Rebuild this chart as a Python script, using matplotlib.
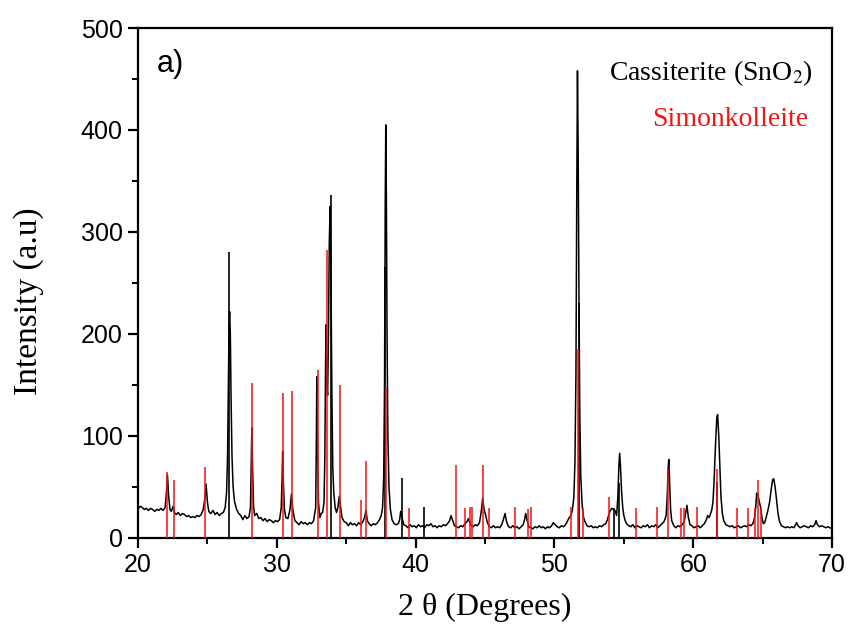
import matplotlib
matplotlib.use('Agg')
import matplotlib.pyplot as plt

# Pola XRD terukur (2 theta, intensitas)
two_theta = [
    20.0, 20.15, 20.3, 20.45, 20.6, 20.75, 20.9, 21.05, 21.2, 21.35, 21.5, 21.65, 21.8, 21.95,
    22.05, 22.12, 22.2, 22.3, 22.4, 22.52, 22.62, 22.75, 22.9, 23.05, 23.2, 23.35, 23.5, 23.65,
    23.8, 23.95, 24.1, 24.25, 24.4, 24.55, 24.7, 24.83, 24.9, 25.0, 25.1, 25.25, 25.4, 25.55,
    25.7, 25.85, 26.0, 26.15, 26.28, 26.38, 26.45, 26.51, 26.56, 26.6, 26.65, 26.7, 26.77, 26.85,
    26.95, 27.1, 27.25, 27.4, 27.55, 27.7, 27.85, 28.0, 28.1, 28.15, 28.2, 28.25, 28.32, 28.4,
    28.55, 28.7, 28.85, 29.0, 29.15, 29.3, 29.45, 29.6, 29.75, 29.9, 30.05, 30.2, 30.32, 30.38,
    30.42, 30.47, 30.55, 30.65, 30.8, 30.95, 31.05, 31.15, 31.3, 31.45, 31.6, 31.75, 31.9, 32.05,
    32.2, 32.35, 32.5, 32.65, 32.8, 32.85, 32.88, 32.93, 33.0, 33.1, 33.2, 33.3, 33.4, 33.46,
    33.51, 33.55, 33.6, 33.66, 33.72, 33.78, 33.84, 33.9, 33.96, 34.03, 34.1, 34.2, 34.3, 34.4,
    34.5, 34.6, 34.7, 34.85, 35.0, 35.15, 35.3, 35.45, 35.6, 35.75, 35.9, 36.05, 36.2, 36.32,
    36.42, 36.52, 36.65, 36.8, 36.95, 37.1, 37.25, 37.4, 37.52, 37.62, 37.7, 37.76, 37.81, 37.85,
    37.89, 37.94, 38.0, 38.08, 38.18, 38.3, 38.45, 38.6, 38.75, 38.85, 38.92, 39.02, 39.15, 39.3,
    39.45, 39.6, 39.75, 39.9, 40.05, 40.2, 40.35, 40.5, 40.65, 40.8, 40.95, 41.1, 41.25, 41.4,
    41.55, 41.7, 41.85, 42.0, 42.15, 42.3, 42.45, 42.55, 42.65, 42.8, 42.95, 43.1, 43.25, 43.4,
    43.55, 43.7, 43.8, 43.9, 44.0, 44.15, 44.3, 44.45, 44.6, 44.72, 44.83, 44.93, 45.05, 45.15,
    45.3, 45.45, 45.6, 45.75, 45.9, 46.05, 46.2, 46.32, 46.44, 46.55, 46.7, 46.85, 47.0, 47.15,
    47.3, 47.45, 47.6, 47.75, 47.85, 47.93, 48.02, 48.15, 48.3, 48.45, 48.6, 48.75, 48.9, 49.05,
    49.2, 49.35, 49.5, 49.65, 49.8, 49.92, 50.05, 50.2, 50.35, 50.5, 50.65, 50.8, 50.95, 51.07,
    51.2, 51.3, 51.4, 51.48, 51.55, 51.61, 51.66, 51.71, 51.77, 51.83, 51.9, 52.0, 52.1, 52.2,
    52.35, 52.5, 52.65, 52.8, 52.95, 53.1, 53.25, 53.4, 53.55, 53.7, 53.82, 53.9, 54.0, 54.13,
    54.25, 54.36, 54.48, 54.57, 54.64, 54.7, 54.76, 54.84, 54.92, 55.0, 55.1, 55.2, 55.35, 55.5,
    55.65, 55.8, 55.95, 56.1, 56.25, 56.4, 56.55, 56.7, 56.85, 57.0, 57.15, 57.3, 57.45, 57.6,
    57.75, 57.9, 58.05, 58.13, 58.19, 58.24, 58.3, 58.37, 58.45, 58.6, 58.75, 58.9, 59.05, 59.2,
    59.35, 59.45, 59.55, 59.65, 59.77, 59.9, 60.05, 60.2, 60.35, 60.5, 60.65, 60.8, 60.95, 61.04,
    61.15, 61.25, 61.33, 61.42, 61.5, 61.6, 61.7, 61.76, 61.84, 61.92, 62.0, 62.1, 62.2, 62.35,
    62.5, 62.65, 62.8, 62.95, 63.1, 63.25, 63.4, 63.55, 63.7, 63.85, 64.0, 64.15, 64.3, 64.42,
    64.5, 64.57, 64.65, 64.75, 64.86, 64.95, 65.05, 65.15, 65.25, 65.38, 65.5, 65.62, 65.72, 65.8,
    65.9, 66.0, 66.1, 66.2, 66.35, 66.5, 66.65, 66.8, 66.95, 67.1, 67.25, 67.38, 67.45, 67.55,
    67.7, 67.85, 68.0, 68.15, 68.3, 68.46, 68.6, 68.75, 68.85, 68.95, 69.1, 69.25, 69.4, 69.55,
    69.7, 69.85, 70.0,
]
intensity = [
    29, 31, 30, 28, 29, 27, 29, 28, 26, 28, 27, 29, 27, 30,
    45, 62, 42, 28, 26, 31, 25, 23, 25, 22, 24, 23, 21, 22,
    20, 21, 20, 22, 21, 23, 28, 40, 53, 35, 26, 24, 27, 23,
    25, 22, 24, 25, 30, 45, 80, 150, 210, 222, 200, 140, 80, 50,
    36, 28, 24, 22, 18, 22, 19, 21, 30, 70, 108, 70, 32, 22,
    24, 19, 20, 17, 19, 16, 18, 17, 15, 17, 16, 18, 30, 60,
    85, 55, 28, 20, 19, 28, 43, 28, 17, 15, 13, 16, 14, 15,
    13, 15, 14, 17, 30, 100, 158, 90, 35, 20, 24, 25, 35, 80,
    170, 209, 150, 140, 200, 290, 325, 260, 150, 70, 45, 30, 25, 30,
    41, 30, 20, 16, 15, 12, 15, 13, 14, 12, 15, 13, 16, 20,
    27, 17, 14, 12, 14, 13, 15, 18, 22, 30, 60, 150, 330, 405,
    340, 200, 100, 50, 28, 18, 14, 13, 14, 18, 26, 20, 13, 12,
    10, 13, 11, 12, 10, 13, 11, 12, 10, 13, 12, 14, 11, 12,
    10, 12, 11, 13, 12, 14, 17, 22, 18, 12, 11, 10, 12, 11,
    14, 16, 19, 15, 12, 11, 13, 12, 15, 25, 39, 28, 22, 16,
    11, 10, 12, 10, 11, 10, 13, 18, 24, 16, 11, 10, 12, 10,
    11, 9, 11, 13, 18, 24, 18, 11, 10, 9, 11, 10, 12, 10,
    11, 9, 11, 10, 12, 15, 13, 11, 10, 12, 11, 13, 17, 20,
    22, 28, 40, 75, 160, 340, 458, 380, 230, 120, 60, 32, 20, 16,
    12, 11, 12, 10, 11, 10, 12, 11, 13, 14, 18, 22, 26, 29,
    28, 27, 22, 40, 70, 83, 70, 45, 30, 22, 17, 14, 12, 11,
    13, 10, 12, 11, 10, 12, 11, 13, 10, 12, 11, 13, 10, 12,
    14, 16, 22, 42, 68, 77, 55, 28, 17, 12, 10, 12, 11, 13,
    16, 24, 32, 20, 13, 12, 10, 11, 12, 10, 12, 14, 18, 22,
    20, 24, 27, 35, 55, 90, 118, 121, 100, 70, 40, 24, 17, 13,
    12, 11, 12, 10, 11, 12, 10, 11, 12, 11, 13, 12, 14, 20,
    30, 44, 43, 36, 30, 20, 14, 15, 20, 27, 35, 48, 57, 58,
    50, 38, 25, 17, 12, 11, 10, 11, 10, 11, 10, 13, 15, 12,
    10, 11, 12, 11, 10, 12, 11, 13, 17, 13, 11, 12, 11, 10,
    11, 10, 9,
]

# Garis referensi Cassiterite (SnO2) - hitam
cas_pos = [26.58, 33.88, 37.82, 39.04, 40.6, 51.77, 54.3, 54.65, 61.74]
cas_int = [280, 336, 266, 59, 30, 230, 29, 54, 55]

# Garis referensi Simonkolleite - merah
sim_pos = [22.11, 22.57, 24.83, 28.24, 30.42, 31.12, 32.99, 33.64, 34.55, 36.04,
           36.43, 37.87, 39.55, 42.91, 43.56, 43.92, 44.04, 44.83, 45.31, 47.16,
           48.07, 48.29, 51.22, 51.68, 52.05, 53.96, 55.88, 57.41, 58.16, 59.12,
           59.36, 60.25, 61.69, 63.18, 63.97, 64.45, 64.69, 64.86]
sim_int = [65, 57, 70, 152, 142, 144, 165, 282, 150, 37,
           75, 148, 29, 72, 29, 30, 30, 72, 29, 30,
           28, 30, 30, 185, 29, 40, 29, 30, 68, 29,
           29, 30, 68, 29, 29, 29, 57, 29]

plt.rcParams['mathtext.fontset'] = 'stix'

fig = plt.figure(figsize=(8.51, 6.35), dpi=100)
ax = fig.add_axes([0.1622, 0.1528, 0.8155, 0.8031])

# Data
ax.plot(two_theta, intensity, color='black', linewidth=1.1, zorder=2)
ax.vlines(cas_pos, 0, cas_int, color='black', linewidth=1.2, zorder=3)
ax.vlines(sim_pos, 0, sim_int, color='#ff1010', linewidth=1.3, alpha=0.85, zorder=4)

ax.set_xlim(20, 70)
ax.set_ylim(0, 500)
ax.set_xticks([20, 30, 40, 50, 60, 70])
ax.set_xticks([25, 35, 45, 55, 65], minor=True)
ax.set_yticks([0, 100, 200, 300, 400, 500])
ax.set_yticks([50, 150, 250, 350, 450], minor=True)

for sp in ax.spines.values():
    sp.set_linewidth(1.6)

ax.tick_params(which='major', direction='out', length=7, width=1.6,
               labelsize=18, pad=4)
ax.tick_params(which='minor', direction='out', length=4, width=1.4)
for lab in ax.get_xticklabels() + ax.get_yticklabels():
    lab.set_fontfamily('Liberation Sans')

# Label sumbu
ax.set_xlabel('2 θ (Degrees)', fontsize=23, fontfamily='Liberation Serif', labelpad=11)
ax.set_ylabel('Intensity (a.u)', fontsize=24, fontfamily='Liberation Serif')
ax.yaxis.set_label_coords(-0.135, 0.465)

# Anotasi
ax.text(0.027, 0.958, 'a)', transform=ax.transAxes, fontsize=22,
        fontfamily='Liberation Sans', va='top', ha='left')
ax.text(0.973, 0.898, r'Cassiterite (SnO$_2$)', transform=ax.transAxes, fontsize=20,
        fontfamily='Liberation Serif', va='baseline', ha='right', color='black')
ax.text(0.966, 0.808, 'Simonkolleite', transform=ax.transAxes, fontsize=20,
        fontfamily='Liberation Serif', va='baseline', ha='right', color='#ff1010')

fig.savefig('out.png', dpi=100)
